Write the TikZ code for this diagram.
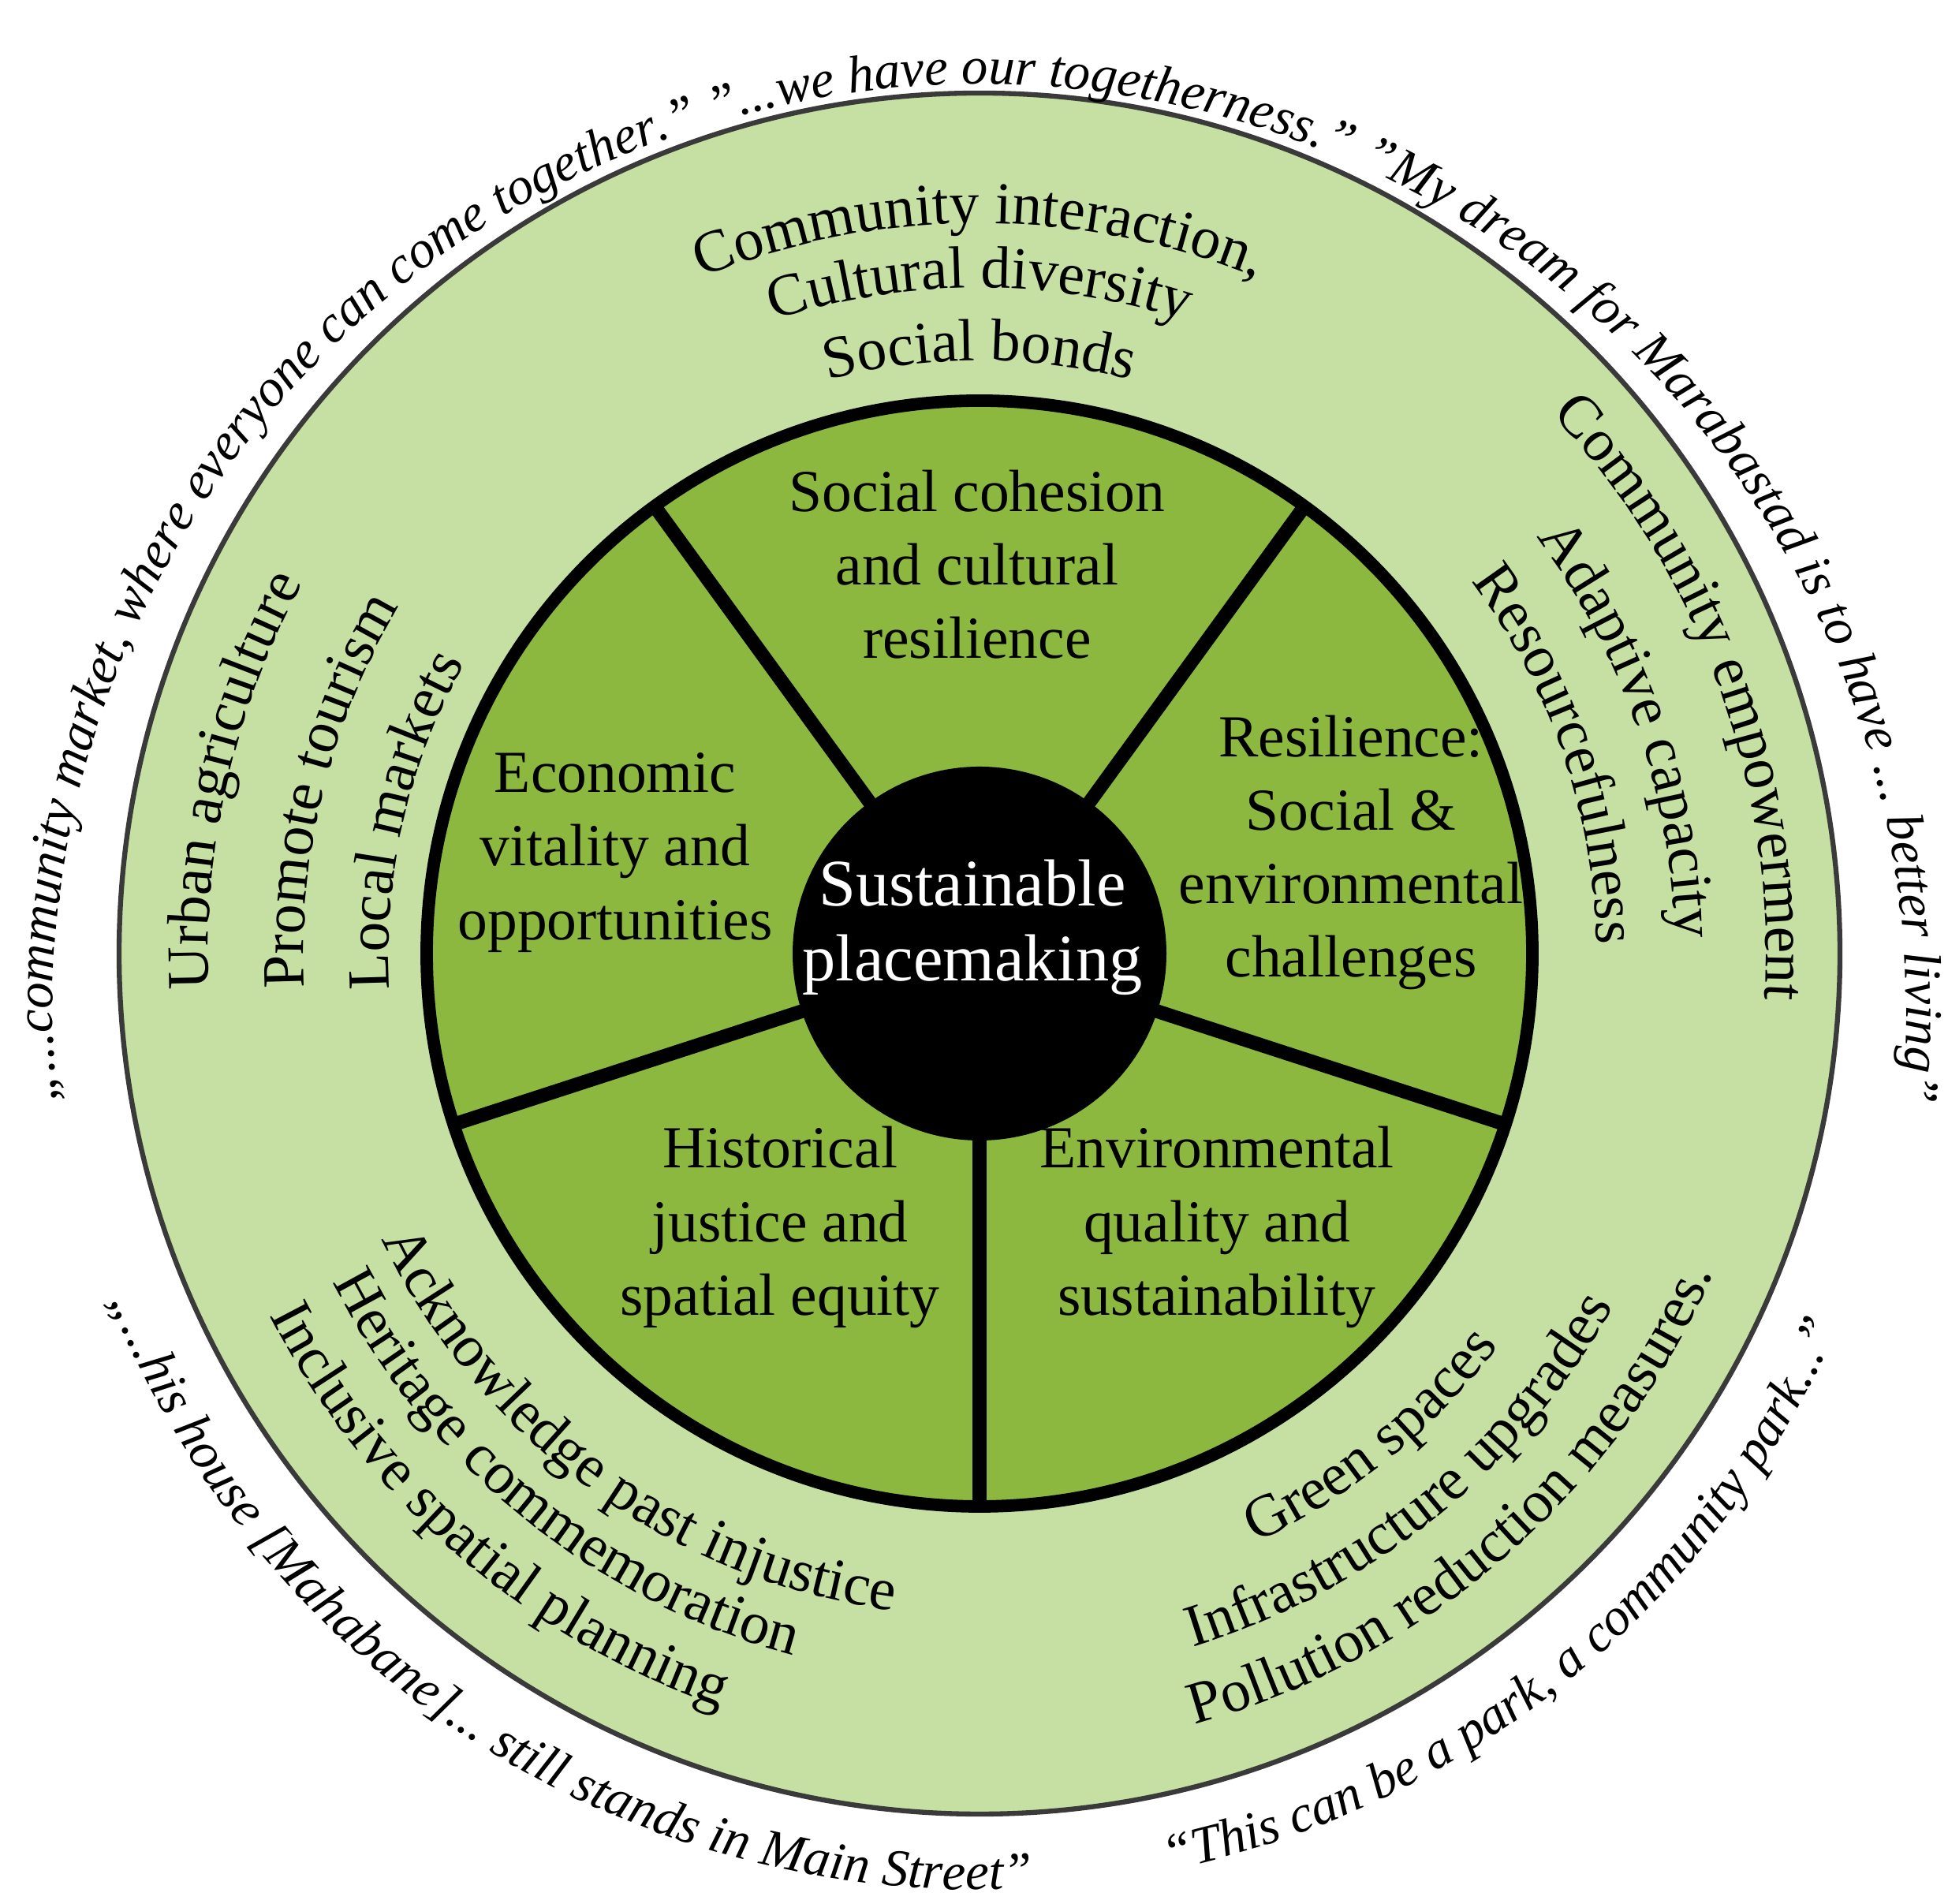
\documentclass[tikz,border=0pt]{standalone}
\usepackage{fontspec}
\setmainfont{Liberation Serif}
\usetikzlibrary{calc,decorations.text}
\definecolor{ringgreen}{HTML}{C6DFA2}
\definecolor{secgreen}{HTML}{8DB83F}
\definecolor{rimgray}{HTML}{3A3A3A}
\newcommand\arctxt[6]{\path[decorate,decoration={text along path,text align=center,text={|#6|#5}}] ($(#1)+(#2:#4)$) arc[start angle=#2,end angle=#3,radius=#4];}
\newcommand\rf{\fontsize{21.5}{25}\selectfont}
\newcommand\qf{\fontsize{19}{22}\selectfont\itshape}
\begin{document}
\begin{tikzpicture}
\useasboundingbox (0,0) rectangle (24.70,24.14);
\fill[white] (0,0) rectangle (24.70,24.14);
\coordinate (C) at (12.42,12.05);
\coordinate (Q) at (12.42,11.32);
\tikzset{sectext/.style={align=center,font=\fontsize{21.5}{26.5}\selectfont}}
% rings
\draw[fill=ringgreen,draw=rimgray,line width=1.8pt] (C) circle[radius=10.91];
\draw[fill=secgreen,draw=black,line width=4.5pt] (C) circle[radius=7.01];
\foreach \a in {126,54,-18,-90,198} \draw[line width=5pt] (C) -- ($(C)+(\a:7.01)$);
\fill[black] (C) circle[radius=2.37];
\node[sectext,text=white,font=\fontsize{24}{27}\selectfont] (hub) at (12.33,12.38) {Sustainable\\placemaking};
\node[sectext] (soc) at (12.39,16.98) {Social cohesion\\and cultural\\resilience};
\node[sectext] (eco) at (7.80,13.33) {Economic\\vitality and\\opportunities};
\node[sectext] (res) at (17.13,13.33) {Resilience:\\Social \&\\environmental\\challenges};
\node[sectext] (his) at (9.89,8.58) {Historical\\justice and\\spatial equity};
\node[sectext] (env) at (15.43,8.58) {Environmental\\quality and\\sustainability};
% ring texts top
\arctxt{C}{135}{45}{9.26}{Community interaction,}{\rf}
\arctxt{C}{135}{45}{8.44}{Cultural diversity}{\rf}
\arctxt{C}{135}{45}{7.52}{Social bonds}{\rf}
% left
\arctxt{C}{207}{127}{9.78}{Urban agriculture}{\rf}
\arctxt{C}{206}{126}{8.57}{Promote tourism}{\rf}
\arctxt{C}{207}{127}{7.49}{Local markets}{\rf}
% right
\arctxt{C}{60}{-20}{9.97}{Community empowerment}{\rf}
\arctxt{C}{59}{-21}{8.82}{Adaptive capacity}{\rf}
\arctxt{C}{59}{-21}{7.82}{Resourcefulness}{\rf}
% bottom left
\arctxt{C}{194}{274}{8.4}{Acknowledge past injustice}{\rf}
\arctxt{C}{191}{271}{9.2}{Heritage commemoration}{\rf}
\arctxt{C}{189}{269}{10.1}{Inclusive spatial planning}{\rf}
% bottom right
\arctxt{C}{-91}{-11}{8.25}{Green spaces}{\rf}
\arctxt{C}{-91}{-11}{9.2}{Infrastructure upgrades}{\rf}
\arctxt{C}{-89}{-9}{10.15}{Pollution reduction measures.}{\rf}
% outer quotes
\arctxt{Q}{200}{-20}{11.75}{„...community market, where everyone can come together.” "...we have our togetherness." "My dream for Marabastad is to have ... better living"}{\qf}
\arctxt{C}{192}{283}{11.87}{„...his house [Mahabane]... still stands in Main Street”}{\qf}
\arctxt{C}{276}{342}{11.87}{“This can be a park, a community park...”}{\qf}
\end{tikzpicture}
\end{document}
